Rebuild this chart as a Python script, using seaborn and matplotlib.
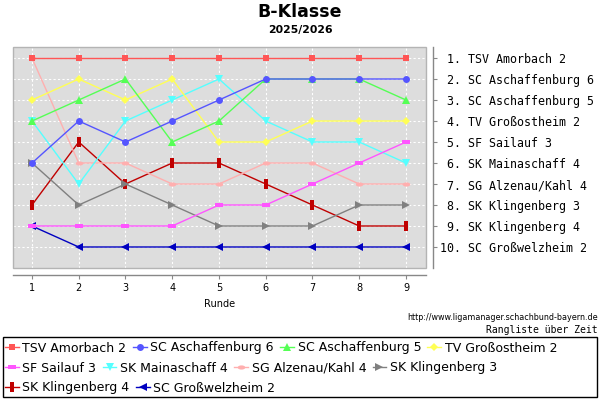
import matplotlib
matplotlib.use("Agg")
import matplotlib.pyplot as plt
import seaborn as sns
from matplotlib.patches import Rectangle
from matplotlib.path import Path
from matplotlib.transforms import Affine2D

# --- data (rank per round, 1 = top) ---
rounds = [1, 2, 3, 4, 5, 6, 7, 8, 9]
teams = ["TSV Amorbach 2", "SC Aschaffenburg 6", "SC Aschaffenburg 5", "TV Großostheim 2",
         "SF Sailauf 3", "SK Mainaschaff 4", "SG Alzenau/Kahl 4", "SK Klingenberg 3",
         "SK Klingenberg 4", "SC Großwelzheim 2"]
amorbach2 = [1, 1, 1, 1, 1, 1, 1, 1, 1]
aschaffenburg6 = [6, 4, 5, 4, 3, 2, 2, 2, 2]
aschaffenburg5 = [4, 3, 2, 5, 4, 2, 2, 2, 3]
grossostheim2 = [3, 2, 3, 2, 5, 5, 4, 4, 4]
sailauf3 = [9, 9, 9, 9, 8, 8, 7, 6, 5]
mainaschaff4 = [4, 7, 4, 3, 2, 4, 5, 5, 6]
alzenau4 = [1, 6, 6, 7, 7, 6, 6, 7, 7]
klingenberg3 = [6, 8, 7, 8, 9, 9, 9, 8, 8]
klingenberg4 = [8, 5, 7, 6, 6, 7, 8, 9, 9]
grosswelzheim2 = [9, 10, 10, 10, 10, 10, 10, 10, 10]
series = [amorbach2, aschaffenburg6, aschaffenburg5, grossostheim2, sailauf3,
          mainaschaff4, alzenau4, klingenberg3, klingenberg4, grosswelzheim2]
standings = ["TSV Amorbach 2", "SC Aschaffenburg 6", "SC Aschaffenburg 5", "TV Großostheim 2",
             "SF Sailauf 3", "SK Mainaschaff 4", "SG Alzenau/Kahl 4", "SK Klingenberg 3",
             "SK Klingenberg 4", "SC Großwelzheim 2"]

# --- styles ---
colors = ["#ff5555", "#5555ff", "#55ff55", "#ffff55", "#ff55ff",
          "#55ffff", "#ffafaf", "#808080", "#c00000", "#0000c0"]
hrect = Path([(-1, -0.5), (1, -0.5), (1, 0.5), (-1, 0.5), (-1, -0.5)], closed=True)
vrect = Path([(-0.5, -1), (0.5, -1), (0.5, 1), (-0.5, 1), (-0.5, -1)], closed=True)
ellipse = Affine2D().scale(1, 0.55).transform_path(Path.unit_circle())
markers = ["s", "o", "^", "D", hrect, "v", ellipse, ">", vrect, "<"]
msizes = [5, 5, 5.5, 3.8, 5.5, 5.5, 5.5, 5.5, 6.5, 5.5]

fig = plt.figure(figsize=(6, 4), dpi=100)
ax = fig.add_axes([13 / 600, 1 - 268 / 400, 413 / 600, 221 / 400])
ax.set_facecolor("#dddddd")

for i, (name, ranks) in enumerate(zip(teams, series)):
    sns.lineplot(x=rounds, y=ranks, ax=ax, color=colors[i], marker=markers[i],
                 markersize=msizes[i], markeredgewidth=0, linewidth=1.0,
                 zorder=20 - i, legend=False)

ax.set_xlim(0.594, 9.428)
ax.set_ylim(11, 0.476)
ax.yaxis.tick_right()
ax.set_xticks(rounds)
ax.set_xticklabels([str(r) for r in rounds])
ax.set_yticks(range(1, 11))
ax.set_yticklabels([f"{k:2d}. {t}" for k, t in enumerate(standings, start=1)])
ax.set_axisbelow(True)
ax.grid(True, color="white", linestyle=(0, (2, 2)), linewidth=0.8)

for s in ["top", "left"]:
    ax.spines[s].set_visible(False)
for s in ["bottom", "right"]:
    ax.spines[s].set_position(("outward", 5))
    ax.spines[s].set_color("#888888")
    ax.spines[s].set_linewidth(1)
ax.add_patch(Rectangle((0, 0), 1, 1, transform=ax.transAxes, fill=False,
                       edgecolor="#b4b4b4", linewidth=1, clip_on=False, zorder=30))
ax.tick_params(axis="x", length=3, labelsize=7, color="#888888", pad=3)
ax.tick_params(axis="y", length=3, color="#888888", pad=2, labelsize=8.4,
               labelleft=False, labelright=True, labelfontfamily="DejaVu Sans Mono")
ax.set_xlabel("Runde", fontsize=7, labelpad=4)
ax.set_ylabel("")

fig.text(0.5, 1 - 12 / 400, "B-Klasse", ha="center", va="center",
         fontsize=12.5, fontweight="bold")
fig.text(0.5, 1 - 30 / 400, "2025/2026", ha="center", va="center",
         fontsize=7.8, fontweight="bold")
fig.text(598 / 600, 1 - 317 / 400, "http://www.ligamanager.schachbund-bayern.de",
         ha="right", va="center", fontsize=5.8)
fig.text(598 / 600, 1 - 330 / 400, "Rangliste über Zeit", ha="right", va="center",
         fontsize=7, family="DejaVu Sans Mono")

# legend: three flowing rows inside one box
fig.patches.append(Rectangle((3 / 600, 1 - 397 / 400), 594 / 600, 60 / 400,
                             transform=fig.transFigure, fill=False,
                             edgecolor="black", linewidth=1))
lines = ax.get_lines()[:len(teams)]
rows = [[0, 1, 2, 3], [4, 5, 6, 7], [8, 9]]
row_y = [348, 368, 388]
for idx, y in zip(rows, row_y):
    fig.legend([lines[j] for j in idx], [teams[j] for j in idx], loc="center left",
               bbox_to_anchor=(5 / 600, 1 - y / 400), ncol=len(idx), frameon=False,
               fontsize=9, handlelength=1.1, handletextpad=0.3, columnspacing=0.5,
               borderpad=0, borderaxespad=0)

fig.savefig("out.png", dpi=100)
